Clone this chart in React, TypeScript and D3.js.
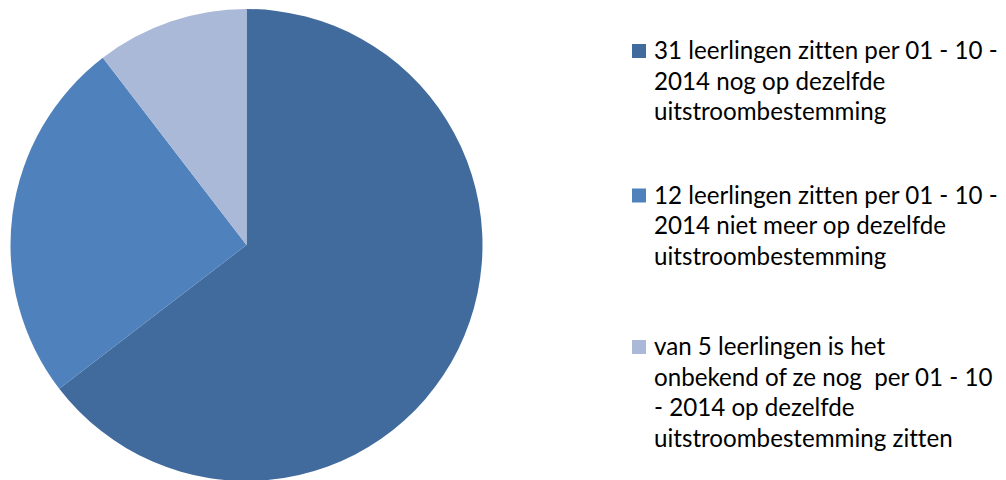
import * as d3 from 'd3';
import { useEffect, useRef } from 'react';

const width = 1006;
const height = 480;

// pie geometry
const cx = 246.5;
const cy = 245;
const radius = 236;

// legend layout
const legendX = 632;
const textX = 654;
const lineHeight = 30.5;
const groupBaselines = [59, 203.5, 355];
const firstLineWidth = 344; // width of the first legend line in the reference

const values = [31, 12, 5];
const colors = ['#416B9D', '#4F81BD', '#AAB9D7'];
const labels = [
  ['31 leerlingen zitten per 01 - 10 -', '2014 nog op dezelfde', 'uitstroombestemming'],
  ['12 leerlingen zitten per 01 - 10 -', '2014 niet meer op dezelfde', 'uitstroombestemming'],
  [
    'van 5 leerlingen is het',
    'onbekend of ze nog\u00a0 per 01 - 10',
    '- 2014 op dezelfde',
    'uitstroombestemming zitten',
  ],
];

export default function App() {
  const ref = useRef<HTMLDivElement>(null);

  useEffect(() => {
    if (!ref.current) return;

    const svg = d3
      .create('svg')
      .attr('width', width)
      .attr('height', height)
      .style('display', 'block')
      .style('position', 'absolute')
      .style('left', '0px')
      .style('top', '0px')
      .style('background', '#fff');

    // pie slices, clockwise from 12 o'clock
    const pie = d3.pie<number>().sort(null).value((d) => d);
    const arc = d3.arc<d3.PieArcDatum<number>>().innerRadius(0).outerRadius(radius);

    svg
      .append('g')
      .attr('transform', `translate(${cx},${cy})`)
      .selectAll('path')
      .data(pie(values))
      .join('path')
      .attr('d', arc)
      .attr('fill', (_, i) => colors[i]);

    // legend
    const legend = svg
      .append('g')
      .attr('font-family', 'Lato, "Open Sans", sans-serif')
      .attr('font-size', 24)
      .style('font-variant-ligatures', 'none')
      .attr('fill', '#000');

    labels.forEach((lines, i) => {
      const base = groupBaselines[i];
      legend
        .append('rect')
        .attr('x', legendX)
        .attr('y', base - 15)
        .attr('width', 14)
        .attr('height', 14)
        .attr('fill', colors[i]);

      legend
        .append('g')
        .selectAll('text')
        .data(lines)
        .join('text')
        .attr('x', textX)
        .attr('y', (_, j) => base + j * lineHeight)
        .attr('xml:space', 'preserve')
        .text((d) => d);
    });

    ref.current.innerHTML = '';
    ref.current.appendChild(svg.node()!);

    // fit the font size so the first line is as wide as in the reference
    const first = legend.select<SVGTextElement>('text').node();
    if (first) {
      const w = first.getComputedTextLength();
      if (w > 0) legend.attr('font-size', (24 * firstLineWidth) / w);
    }
  }, [ref]);

  return <div ref={ref} />;
}
